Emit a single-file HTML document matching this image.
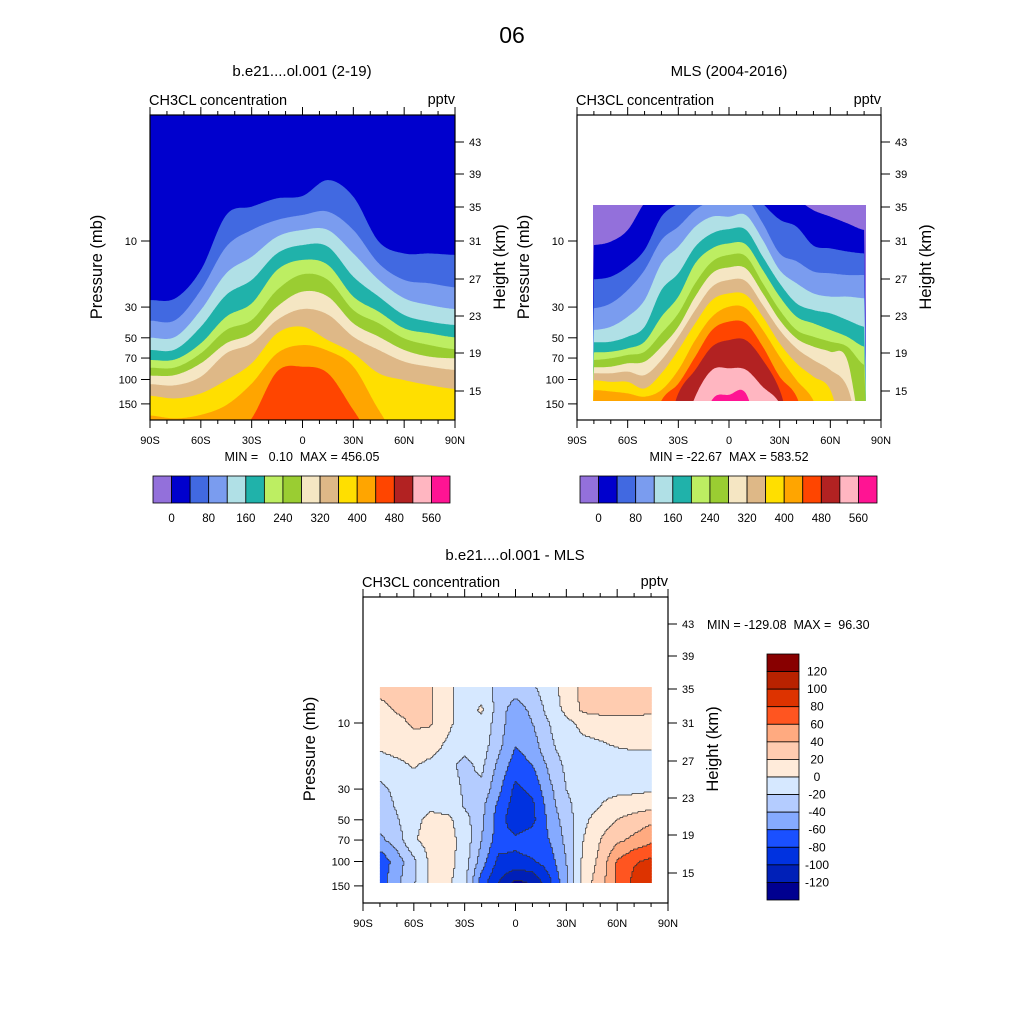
<!DOCTYPE html>
<html><head><meta charset="utf-8"><style>
html,body{margin:0;padding:0;background:#fff;}
svg{display:block;font-family:"Liberation Sans",Arial,sans-serif;}
</style></head><body>
<svg id="fig" width="1024" height="1024" viewBox="0 0 1024 1024" xmlns="http://www.w3.org/2000/svg">
<rect width="1024" height="1024" fill="#fff"/>
<defs>
<clipPath id="clip1"><rect x="150" y="115" width="305" height="305"/></clipPath>
<clipPath id="clip2"><rect x="593" y="205" width="273" height="196"/></clipPath>
<clipPath id="clip3"><rect x="379" y="687" width="273" height="196"/></clipPath>
</defs>
<text x="512" y="43" font-size="23" text-anchor="middle">06</text>
<text x="302" y="76" font-size="15" text-anchor="middle">b.e21....ol.001 (2-19)</text>
<text x="729" y="76" font-size="15" text-anchor="middle">MLS (2004-2016)</text>
<text x="515" y="560" font-size="15" text-anchor="middle">b.e21....ol.001 - MLS</text>
<g id="p1"></g>
<g id="p2"></g>
<g id="p3"></g>
<text x="302" y="461" font-size="12.5" text-anchor="middle" xml:space="preserve">MIN =   0.10  MAX = 456.05</text>
<text x="729" y="461" font-size="12.5" text-anchor="middle" xml:space="preserve">MIN = -22.67  MAX = 583.52</text>
<text x="707" y="629" font-size="12.5" xml:space="preserve">MIN = -129.08  MAX =  96.30</text>
</svg>
<script>
// ---------- data ----------
const lats1 = [-90,-75,-60,-45,-30,-15,0,15,30,45,60,75,90];
const levels1 = [40,80,120,160,200,240,280,320,360,400,440];
const m40 = [26.7,25.9,16.2,6.49,5.65,4.92,4.73,3.63,4.79,10.1,12.3,12.3,12.6];
const m80 = [37.6,37.2,22.6,11.0,8.33,7.05,6.49,6.14,8.33,14.5,19.1,20.2,21.6];
const m120 = [49.9,49.1,31.5,17.1,13.0,9.31,8.33,8.33,12.3,19.1,25.9,29.0,31.0];
const m160 = [61.2,60.5,41.6,24.5,19.1,12.3,10.7,11.0,18.1,25.2,34.2,38.2,40.4];
const m200 = [72.3,71.5,54.8,35.2,28.2,16.2,13.7,14.9,25.2,32.4,42.7,46.4,49.6];
const m240 = [82.2,81.7,64.7,43.9,37.2,22.6,17.4,19.1,31.5,39.3,50.5,56.4,60.5];
const m280 = [93.8,92.7,76.4,54.8,46.4,29.8,23.2,25.2,39.3,49.1,61.2,68.4,70.3];
const m320 = [108,110,95.4,64.7,54.8,37.2,31.0,34.0,49.1,61.2,74.3,80.8,85.3];
const m360 = [131,137,126,101,76.4,46.4,41.6,52,64.7,90.2,101,110,117];
const m400 = [182,191,180,153,107,64.7,56.4,62,80.8,166,300,300,300];
const m440 = [300,300,300,300,191,87.7,80.8,90.2,166,300,300,300,300];

const lats2 = [-80,-70,-60,-50,-40,-30,-20,-10,0,10,20,30,40,50,60,70,80];
const levels2 = [0,40,80,120,160,200,240,280,320,360,400,440,480,520,560];
const o0 = [10.7,10.1,8.33,5.3,4.0,3.5,3.0,3.0,3.0,3.0,4.0,4.5,5.0,6.0,6.67,7.45,8.33];
const o40 = [18.9,18.1,15.3,11.6,6.67,5.35,4.5,4.0,3.8,3.8,5.35,7.0,7.88,10.8,11.3,11.9,12.3];
const o80 = [30.6,28.2,22.6,16.2,9.84,7.88,5.97,5.1,4.8,4.9,7.45,12.3,14.0,16.6,17.1,17.6,17.6];
const o120 = [43.9,41.6,35.2,26.7,14.5,11.0,7.88,6.67,6.67,6.5,9.84,16.2,20.2,23.9,25.2,25.2,25.9];
const o160 = [53.9,53.3,49.1,41.6,22.6,17.1,11.0,8.81,8.2,8.3,13.0,20.2,28.2,31.5,33.3,37.2,41.6];
const o200 = [63.7,63.0,59.6,53.3,35.2,25.2,14.5,11.3,10.4,10.6,16.2,25.2,35.2,39.3,43.9,49.1,57.9];
const o240 = [72.3,70.3,66.5,63.0,46.4,33.3,20.2,14.1,12.6,12.9,20.2,31.5,43.9,49.1,53.3,57.9,78.5];
const o280 = [81.7,80.8,76.4,74.3,57.9,41.6,25.2,17.1,15.5,15.8,23.9,37.2,50.5,57.9,63.0,72.3,300];
const o320 = [90.2,90.2,87.7,92.9,72.3,49.1,31.5,21.4,19.1,19.5,29.0,43.9,59.6,72.3,85.3,113,300];
const o360 = [101,104,104,116,90.2,61.2,39.3,26.7,23.9,24.5,35.2,54.8,76.4,95.4,119,300,300];
const o400 = [119,122,126,133,119,85.3,51.9,35.2,29.8,30.6,43.9,68.4,101,142,300,300,300];
const o440 = [300,300,300,300,142,107,68.4,43.9,38.2,39.3,57.9,95.4,133,300,300,300,300];
const o480 = [300,300,300,300,300,126,85.3,57.9,51.9,52,72.3,119,300,300,300,300,300];
const o520 = [300,300,300,300,300,300,133,85.3,83.0,85,113,149,300,300,300,300,300];
const o560 = [300,300,300,300,300,300,300,140,129,126,300,300,300,300,300,300,300];

const lats3 = [-80,-70,-60,-50,-40,-30,-20,-10,0,10,20,30,40,50,60,70,80];
const pres3 = [5.5,8,10,15,20,30,40,50,70,100,142];
const d5 = [25,28,28,22,5,-10,-12,-25,-30,-22,-10,10,25,25,25,28,28];
const d8 = [15,22,25,22,5,-10,3,-30,-50,-35,-12,5,25,28,28,25,22];
const d10 = [10,15,23,22,5,-10,-5,-30,-55,-40,-20,-5,5,8,12,15,15];
const d15 = [3,8,12,8,-5,-15,-10,-35,-60,-50,-25,-10,-5,-3,0,2,3];
const d20 = [-10,-5,2,-5,-15,-25,-15,-45,-70,-60,-35,-15,-8,-8,-8,-10,-15];
const d30 = [-25,-15,-10,-8,-12,-22,-25,-55,-85,-75,-45,-20,-10,-5,-5,-5,-3];
const d40 = [-30,-18,-10,-3,-8,-22,-35,-65,-90,-85,-50,-25,-10,0,8,12,15];
const d50 = [-30,-22,-5,5,5,-12,-35,-70,-95,-85,-55,-30,-5,10,20,28,35];
const d70 = [-45,-30,-2,8,8,-8,-40,-70,-75,-70,-60,-35,0,20,35,45,55];
const d100 = [-75,-50,-25,5,8,-10,-50,-85,-85,-82,-70,-40,5,25,62,78,85];
const d142 = [-70,-45,-22,5,5,-15,-70,-100,-125,-118,-85,-45,10,30,65,85,90];
const levels3 = [-120,-100,-80,-60,-40,-20,0,20,40,60,80,100,120];

const cbLabels12 = ['0','80','160','240','320','400','480','560'];
const cbLabels3 = ['120','100','80','60','40','20','0','-20','-40','-60','-80','-100','-120'];
const latTicks = ['90S','60S','30S','0','30N','60N','90N'];
const presTicks = [10,30,50,70,100,150];
const kmTicks = ['43','39','35','31','27','23','19','15'];

// ---------- styles ----------
const cols = ['#9370DB','#0000CD','#4169E1','#7A9CEF','#B0E0E6','#20B2AA','#BDEE62','#9ACD32','#F5E6C3','#DEB887','#FFDF00','#FFA500','#FF4500','#B22222','#FFB6C1','#FF1493'];
const cols3 = ['#000090','#0020B8','#0032E0','#1A50FF','#85AAFF','#B4CCFF','#D6E8FF','#FFEBDA','#FFCCB0','#FFAA80','#FF5520','#DD3300','#B82200','#880000'];
const kmY = [142,174,207,241,279,316,353,391];
const NS = 'http://www.w3.org/2000/svg';
function mk(tag, attrs, parent){const e=document.createElementNS(NS,tag);for(const k in attrs)e.setAttribute(k,attrs[k]);parent.appendChild(e);return e;}

function makeAxes(x0,y0,W,y10){
  return {x:lat=>x0+(lat+90)/180*W, y:p=>y10+138.5*(Math.log10(p)-1)};
}
function cr(vals,lats,lat){
  const lv=vals.map(v=>Math.log10(v));
  let i=0; while(i<lats.length-2 && lat>lats[i+1]) i++;
  const t=(lat-lats[i])/(lats[i+1]-lats[i]);
  const p0=lv[Math.max(i-1,0)],p1=lv[i],p2=lv[i+1],p3=lv[Math.min(i+2,lv.length-1)];
  const t2=t*t,t3=t2*t;
  const r=0.5*((2*p1)+(-p0+p2)*t+(2*p0-5*p1+4*p2-p3)*t2+(-p0+3*p1-3*p2+p3)*t3);
  return Math.pow(10,r);
}

function drawBands(g,ax,lats,levels,bounds,bgIdx,clipId,box){
  const cg=mk('g',{'clip-path':'url(#'+clipId+')'},g);
  const bg=mk('rect',{x:box[0],y:box[1],width:box[2],height:box[3],fill:cols[bgIdx]},cg);
  
  
  levels.forEach((lv,k)=>{
    const arr=bounds[k]; const pts=[];
    const l0=lats[0], l1=lats[lats.length-1];
    const n=Math.round((l1-l0)/0.5);
    for(let s=0;s<=n;s++){const la=l0+s*0.5;pts.push(ax.x(la).toFixed(1)+','+Math.min(ax.y(cr(arr,lats,la)),box[1]+box[3]+40).toFixed(1));}
    pts.push((ax.x(l1)+3).toFixed(1)+','+(box[1]+box[3]+40));
    pts.push((ax.x(l0)-3).toFixed(1)+','+(box[1]+box[3]+40));
    const poly=mk('polygon',{points:pts.join(' '),fill:cols[lv/40+1]},cg);
    
    
  });
}

function frame(g,x0,y0,W,H,y10,kmOff,xlabY){
  const ax=makeAxes(x0,y0,W,y10);
  mk('rect',{x:x0,y:y0,width:W,height:H,fill:'none',stroke:'#000','stroke-width':1.2},g);
  for(let la=-90;la<=90;la+=10){
    const x=ax.x(la), L=(la%30===0)?8:4;
    mk('line',{x1:x,y1:y0,x2:x,y2:y0-L,stroke:'#000','stroke-width':1},g);
    mk('line',{x1:x,y1:y0+H,x2:x,y2:y0+H+L,stroke:'#000','stroke-width':1},g);
  }
  latTicks.forEach((t,i)=>{
    const tx=mk('text',{x:ax.x(-90+30*i),y:xlabY,'font-size':11,'text-anchor':'middle'},g);
    tx.textContent=t;
    
    
  });
  presTicks.forEach(p=>{
    const y=ax.y(p);
    mk('line',{x1:x0,y1:y,x2:x0-9,y2:y,stroke:'#000','stroke-width':1},g);
    const tx=mk('text',{x:x0-13,y:y+4,'font-size':11,'text-anchor':'end'},g);
    tx.textContent=p;
    
    
  });
  kmTicks.forEach((k,i)=>{
    const y=kmY[i]+kmOff;
    mk('line',{x1:x0+W,y1:y,x2:x0+W+9,y2:y,stroke:'#000','stroke-width':1},g);
    const tx=mk('text',{x:x0+W+14,y:y+4,'font-size':11},g);
    tx.textContent=k;
    
    
  });
  const t1=mk('text',{x:x0-1,y:y0-10,'font-size':14.5},g); t1.textContent='CH3CL concentration';
  
  
  const t2=mk('text',{x:x0+W,y:y0-11,'font-size':14.5,'text-anchor':'end'},g); t2.textContent='pptv';
  
  
  const cy=y0+152;
  const t3=mk('text',{x:0,y:0,'font-size':16.5,'text-anchor':'middle',transform:'translate('+(x0-48)+','+cy+') rotate(-90)'},g); t3.textContent='Pressure (mb)';
  
  
  const t4=mk('text',{x:0,y:0,'font-size':16.5,'text-anchor':'middle',transform:'translate('+(x0+W+50)+','+cy+') rotate(-90)'},g); t4.textContent='Height (km)';
  
  
  return ax;
}

function hbar(g,x0){
  const w=297/16;
  for(let i=0;i<16;i++){
    const r=mk('rect',{x:x0+i*w,y:476,width:w,height:27,fill:cols[i],stroke:'#000','stroke-width':0.8},g);
    
    
  }
  cbLabels12.forEach((t,j)=>{
    const tx=mk('text',{x:x0+(1+2*j)*w,y:522,'font-size':11.5,'text-anchor':'middle'},g); tx.textContent=t;
    
    
  });
}

// ---- panel 1
const g1=document.getElementById('p1');
const ax1=makeAxes(150,115,305,241);
drawBands(g1,ax1,lats1,levels1,[m40,m80,m120,m160,m200,m240,m280,m320,m360,m400,m440],1,'clip1',[150,115,305,305]);
frame(g1,150,115,305,305,241,0,444);
hbar(g1,153);

// ---- panel 2
const g2=document.getElementById('p2');
const ax2=makeAxes(577,115,304,241);
drawBands(g2,ax2,lats2,levels2,[o0,o40,o80,o120,o160,o200,o240,o280,o320,o360,o400,o440,o480,o520,o560],0,'clip2',[593,205,273,196]);
frame(g2,577,115,304,305,241,0,444);
hbar(g2,580);

// ---- panel 3
const g3=document.getElementById('p3');
const ax3=makeAxes(363,597,305,723);
const rows3=[d5,d8,d10,d15,d20,d30,d40,d50,d70,d100,d142];
const cg3=mk('g',{'clip-path':'url(#clip3)'},g3);
function val3(lat,p){
  let i=0; while(i<lats3.length-2 && lat>lats3[i+1]) i++;
  const tx=Math.max(0,Math.min(1,(lat-lats3[i])/(lats3[i+1]-lats3[i])));
  const lp=Math.log10(p); let j=0;
  while(j<pres3.length-2 && lp>Math.log10(pres3[j+1])) j++;
  const ty=Math.max(0,Math.min(1,(lp-Math.log10(pres3[j]))/(Math.log10(pres3[j+1])-Math.log10(pres3[j]))));
  const a=rows3[j][i]*(1-tx)+rows3[j][i+1]*tx, b=rows3[j+1][i]*(1-tx)+rows3[j+1][i+1]*tx;
  return a*(1-ty)+b*ty;
}
function band3(v){let k=0; while(k<levels3.length && v>=levels3[k]) k++; return k;}
const step=1.5;
const yTop=ax3.y(pres3[0]), yBot=ax3.y(pres3[pres3.length-1]);
const xL=ax3.x(lats3[0]), xR=ax3.x(lats3[lats3.length-1]);
const nR=Math.ceil((yBot-yTop)/step), nC=Math.ceil((xR-xL)/step);
const B=[];
for(let r=0;r<nR;r++){
  const y=yTop+r*step;
  const p=Math.pow(10,1+(y+step/2-723)/138.5);
  const row=[];
  for(let c=0;c<nC;c++){
    const x=xL+c*step;
    const lat=(x+step/2-363)/305*180-90;
    row.push(band3(val3(Math.min(lat,80),p)));
  }
  B.push(row);
}
for(let r=0;r<nR;r++){
  const y=yTop+r*step; let c0=0;
  for(let c=1;c<=nC;c++){
    if(c===nC || B[r][c]!==B[r][c0]){
      const rc=mk('rect',{x:(xL+c0*step).toFixed(1),y:y.toFixed(1),width:((c-c0)*step+0.4).toFixed(1),height:step+0.4,fill:cols3[B[r][c0]]},cg3);
      
      
      c0=c;
    }
  }
}
let d='';
for(let r=0;r<nR;r++){
  for(let c=0;c<nC;c++){
    const x=xL+c*step, y=yTop+r*step;
    if(c<nC-1 && B[r][c]!==B[r][c+1]) d+='M'+(x+step).toFixed(1)+' '+y.toFixed(1)+'v'+step;
    if(r<nR-1 && B[r][c]!==B[r+1][c]) d+='M'+x.toFixed(1)+' '+(y+step).toFixed(1)+'h'+step;
  }
}
const cl=mk('path',{d:d,fill:'none',stroke:'#333','stroke-width':0.7},cg3);


frame(g3,363,597,305,306,723,482,927);
// vertical colorbar
const bh=246/14;
for(let i=0;i<14;i++){
  const r=mk('rect',{x:767,y:654+i*bh,width:32,height:bh,fill:cols3[13-i],stroke:'#000','stroke-width':0.8},g3);
  
  
}
cbLabels3.forEach((t,j)=>{
  const tx=mk('text',{x:817,y:654+(j+1)*bh+4,'font-size':12,'text-anchor':'middle'},g3); tx.textContent=t;
  
  
});
</script>
</body></html>
